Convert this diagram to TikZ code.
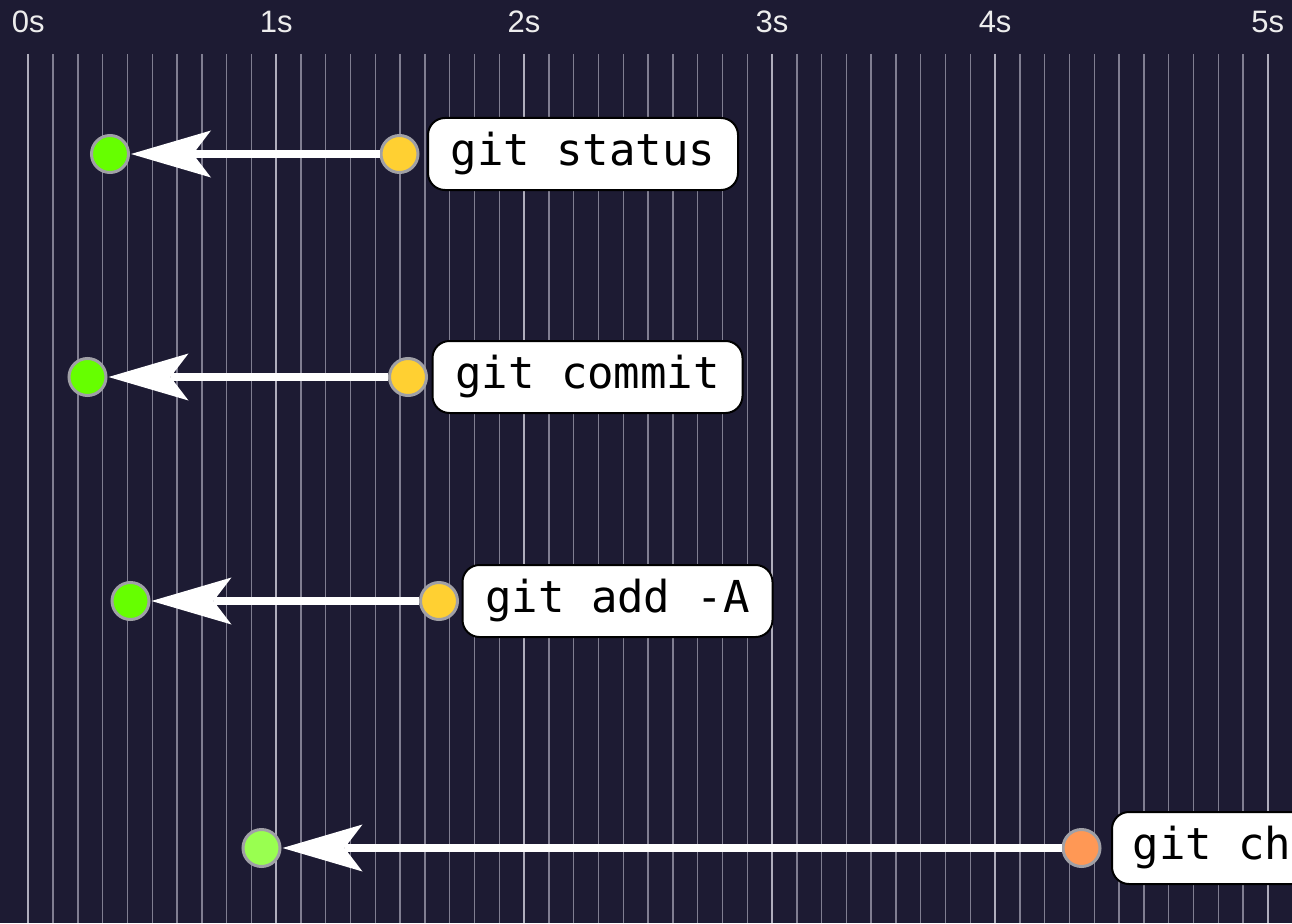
\documentclass[tikz,border=0pt]{standalone}
\usepackage{fontspec}
\setmainfont{Liberation Sans}
\newfontfamily\codefont{DejaVu Sans Mono}
\usetikzlibrary{arrows.meta,positioning}

\definecolor{bgnavy}{RGB}{29,27,51}
\definecolor{gridgray}{RGB}{128,126,145}
\definecolor{gridlight}{RGB}{175,173,188}
\definecolor{halo}{RGB}{160,160,166}
\definecolor{fastgreen}{RGB}{102,255,0}
\definecolor{lightgreen}{RGB}{153,255,80}
\definecolor{slowyellow}{RGB}{255,208,50}
\definecolor{sloworange}{RGB}{255,152,85}

\begin{document}
\begin{tikzpicture}[
    x=1pt, y=-1pt,
    % Grid styles
    gridline/.style={draw=gridgray, line width=1.4pt},
    majorline/.style={draw=gridlight, line width=2.2pt},
    timelabel/.style={font=\fontsize{31}{33}\selectfont, text=white!93!black, inner sep=0pt, anchor=base},
    % Dot styles
    dot/.style={circle, draw=halo, line width=3pt, minimum size=37pt, inner sep=0pt, outer sep=0pt},
    after-dot/.style={dot, fill=fastgreen},
    after-dot-light/.style={dot, fill=lightgreen},
    before-dot/.style={dot, fill=slowyellow},
    before-dot-slow/.style={dot, fill=sloworange},
    % Command box
    cmdbox/.style={draw=black, line width=2pt, fill=white, rounded corners=17pt, minimum width=310pt, minimum height=72pt, font=\codefont\fontsize{44}{48}\selectfont},
    % Arrow style
    speedup/.style={draw=white, line width=7.5pt, shorten <=1.5pt, shorten >=2.5pt, -{Stealth[length=80pt, width=47pt, inset=18pt, line width=0pt]}},
]

\clip (0,0) rectangle (1292,923);
\fill[bgnavy] (0,0) rectangle (1292,923);

% === TIME GRID ===
\foreach \i in {0,...,50}
    \draw[gridline] ({28.3+24.79*\i},54) -- ({28.3+24.79*\i},923);
\foreach \i/\t in {0/0s,10/1s,20/2s,30/3s,39/4s,50/5s} {
    \draw[majorline] ({28.3+24.79*\i},54) -- ({28.3+24.79*\i},923);
    \node[timelabel] (t\t) at ({28.3+24.79*\i},33) {\t};
}

% === GIT STATUS ===
\node[after-dot] (status-after) at (110,154) {};
\node[before-dot] (status-before) at (399.5,154) {};
\node[cmdbox, right=9pt of status-before] (status-cmd) {git status};
\draw[speedup] (status-before) -- (status-after);

% === GIT COMMIT ===
\node[after-dot] (commit-after) at (87.5,377) {};
\node[before-dot] (commit-before) at (408,377) {};
\node[cmdbox, right=5pt of commit-before] (commit-cmd) {git commit};
\draw[speedup] (commit-before) -- (commit-after);

% === GIT ADD ===
\node[after-dot] (add-after) at (130.5,601) {};
\node[before-dot] (add-before) at (439,601) {};
\node[cmdbox, right=4pt of add-before] (add-cmd) {git add -A};
\draw[speedup] (add-before) -- (add-after);

% === GIT CH (box runs off the right edge) ===
\node[after-dot-light] (ch-after) at (261.5,848) {};
\node[before-dot-slow] (ch-before) at (1081.5,848) {};
\node[cmdbox, right=11pt of ch-before] (ch-cmd) {\makebox[269pt][l]{git ch}};
\draw[speedup] (ch-before) -- (ch-after);

\end{tikzpicture}
\end{document}
